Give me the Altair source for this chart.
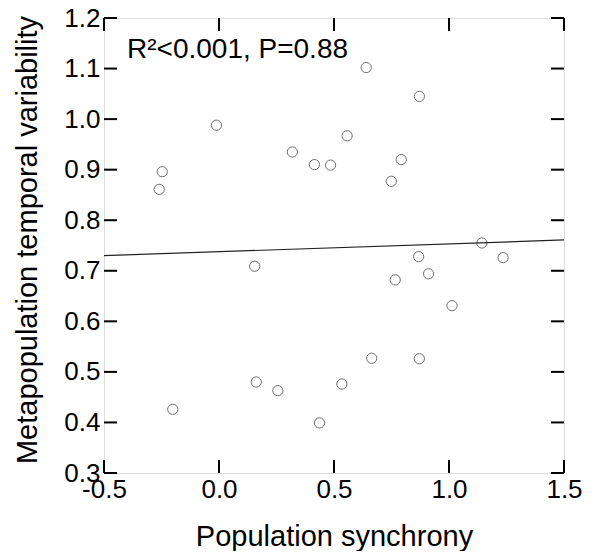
import altair as alt
import pandas as pd

# Scatter data (population synchrony vs metapopulation temporal variability)
x_sync = [0.640, 0.871, -0.011, 0.557, 0.319, 0.792, 0.415, 0.485, -0.247, -0.260,
          0.749, 1.143, 0.868, 1.235, 0.155, 0.911, 0.766, 1.013, 0.664, 0.871,
          0.162, 0.534, 0.256, -0.201, 0.437]
y_var = [1.102, 1.045, 0.988, 0.967, 0.935, 0.920, 0.910, 0.909, 0.896, 0.861,
         0.877, 0.755, 0.728, 0.726, 0.709, 0.694, 0.682, 0.631, 0.527, 0.526,
         0.480, 0.476, 0.463, 0.426, 0.399]

# Regression line end points
line_x = [-0.5, 1.5]
line_y = [0.730, 0.761]

x_ticks = [-0.5, 0.0, 0.5, 1.0, 1.5]
y_ticks = [0.3, 0.4, 0.5, 0.6, 0.7, 0.8, 0.9, 1.0, 1.1, 1.2]

annotation = "R²<0.001, P=0.88"
x_title = "Population synchrony"
y_title = "Metapopulation temporal variability"

W, H = 460, 455
PAD_TOP, PAD_BOTTOM = 10, 78
FONT = "Liberation Sans"
FS = 26
TFS = 29
TICK = 13

pts = pd.DataFrame({"x": x_sync, "y": y_var})
line_df = pd.DataFrame({"x": line_x, "y": line_y})
xt = pd.DataFrame({"v": x_ticks})
yt = pd.DataFrame({"v": y_ticks})

xscale = alt.Scale(domain=[-0.5, 1.5], nice=False, zero=False)
yscale = alt.Scale(domain=[0.3, 1.2], nice=False, zero=False)

label_expr = "replace(format(datum.value, '.1f'), '\u2212', '-')"

xaxis = alt.Axis(values=x_ticks, labelExpr=label_expr, title=x_title, grid=False, ticks=False,
                 tickSize=0, domain=False, labelPadding=3, labelFontSize=FS,
                 titleFontSize=TFS, labelFont=FONT, titleFont=FONT, titleFontWeight="normal",
                 labelColor="black", titleColor="black",
                 titleY=545 - (8 + PAD_TOP + H), titleBaseline="alphabetic",
                 labelOverlap=False, labelFlush=False)
yaxis = alt.Axis(values=y_ticks, labelExpr=label_expr, title=y_title, grid=False, ticks=False,
                 tickSize=0, domain=False, labelPadding=4, labelFontSize=FS,
                 titleFontSize=TFS, labelFont=FONT, titleFont=FONT, titleFontWeight="normal",
                 labelColor="black", titleColor="black",
                 titleX=-68, titleY=H / 2 - 6, titleBaseline="alphabetic", titleAngle=270,
                 titleAlign="center", labelOverlap=False, labelFlush=False)

points = alt.Chart(pts).mark_point(shape="circle", filled=False, size=105,
                                    stroke="#6e6e6e", strokeWidth=1, opacity=1).encode(
    x=alt.X("x:Q", scale=xscale, axis=xaxis),
    y=alt.Y("y:Q", scale=yscale, axis=yaxis),
)

reg = alt.Chart(line_df).mark_line(color="#222222", strokeWidth=1.2).encode(
    x=alt.X("x:Q", scale=xscale),
    y=alt.Y("y:Q", scale=yscale),
)

left_ticks = alt.Chart(yt).mark_rule(color="black", strokeWidth=2).encode(
    y=alt.Y("v:Q", scale=yscale), x=alt.value(0), x2=alt.value(TICK))
right_ticks = alt.Chart(yt).mark_rule(color="black", strokeWidth=2).encode(
    y=alt.Y("v:Q", scale=yscale), x=alt.value(W - TICK), x2=alt.value(W))
bottom_ticks = alt.Chart(xt).mark_rule(color="black", strokeWidth=2).encode(
    x=alt.X("v:Q", scale=xscale), y=alt.value(H - TICK), y2=alt.value(H))
top_ticks = alt.Chart(xt).mark_rule(color="black", strokeWidth=2).encode(
    x=alt.X("v:Q", scale=xscale), y=alt.value(0), y2=alt.value(TICK))

label = alt.Chart(pd.DataFrame({"t": [annotation]})).mark_text(
    align="left", baseline="alphabetic", font=FONT, fontSize=28, color="black"
).encode(x=alt.value(23), y=alt.value(40), text="t:N")

chart = alt.layer(points, reg, left_ticks, right_ticks, bottom_ticks, top_ticks, label).properties(
    width=W, height=H,
    autosize=alt.AutoSizeParams(type="none"),
    padding={"left": 96, "top": PAD_TOP, "right": 24, "bottom": PAD_BOTTOM},
).configure_view(stroke="black", strokeWidth=2).configure(background="white")

chart.save("out.html", embed_options={"renderer": "svg", "actions": False})
